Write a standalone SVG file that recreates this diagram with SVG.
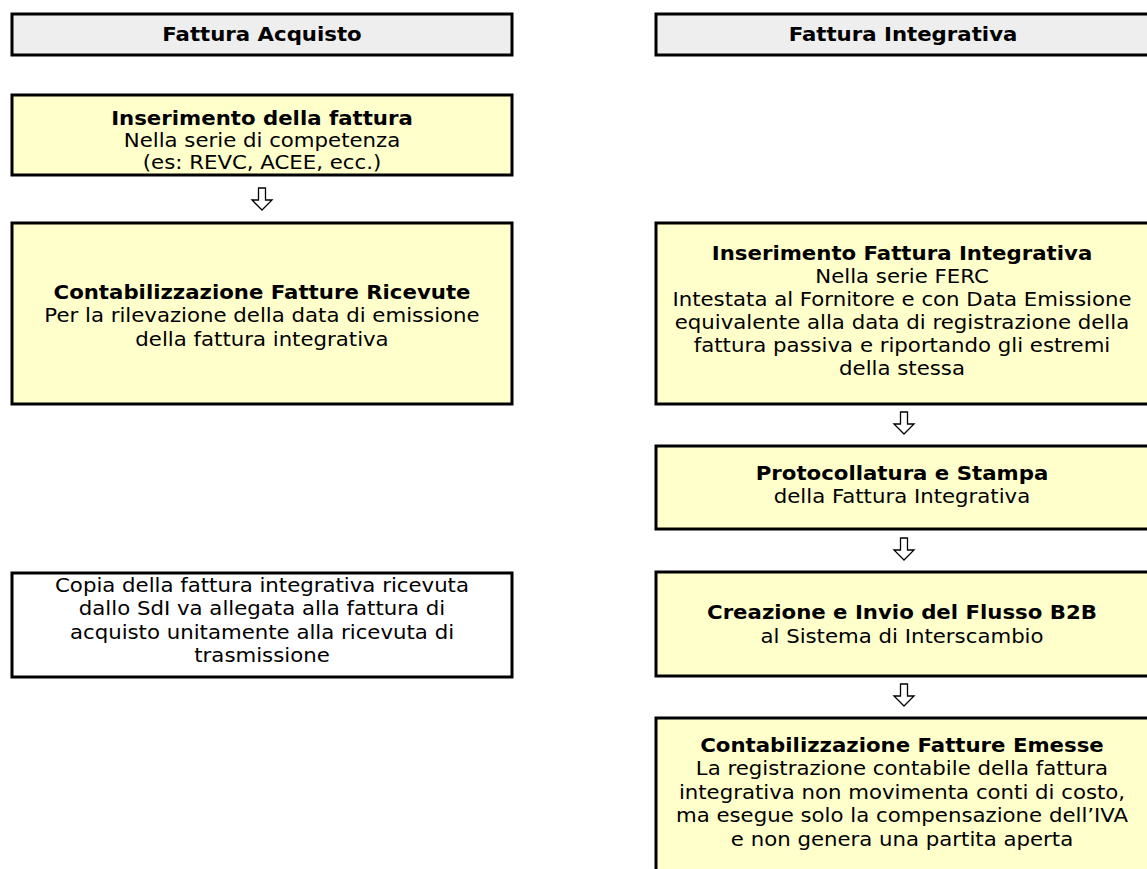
<svg xmlns="http://www.w3.org/2000/svg" width="1147" height="869" viewBox="0 0 1147 869">
<style>
  .hdr { fill: #eeeeee; stroke: #000; stroke-width: 3; }
  .box { fill: #ffffcc; stroke: #000; stroke-width: 3; }
  .note { fill: #ffffff; stroke: #000; stroke-width: 3; }
  text { font-family: "DejaVu Sans", Verdana, sans-serif; font-size: 19px; fill: #000; text-anchor: middle; }
  .b { font-weight: bold; }
  .arrow { fill: #fff; stroke: #000; stroke-width: 1.3; stroke-linejoin: miter; }
</style>
<defs>
  <path id="darrow" class="arrow" d="M-3.5,0 H3.5 V12 H10 L0,22 L-10,12 H-3.5 Z"/>
</defs>
<rect width="1147" height="869" fill="#ffffff"/>

<g id="hdr-acquisto">
  <rect class="hdr" x="12" y="14" width="500" height="41"/>
  <g transform="translate(262 0) scale(1.12 1)"><text class="b" x="0" y="41">Fattura Acquisto</text></g>
</g>
<g id="hdr-integrativa">
  <rect class="hdr" x="656" y="14" width="510" height="41"/>
  <g transform="translate(903 0) scale(1.12 1)"><text class="b" x="0" y="41">Fattura Integrativa</text></g>
</g>

<g id="inserimento-fattura">
  <rect class="box" x="12" y="95" width="500" height="80"/>
  <g transform="translate(262 0) scale(1.12 1)"><text x="0" y="125"><tspan class="b">Inserimento della fattura</tspan><tspan x="0" y="147">Nella serie di competenza</tspan><tspan x="0" y="169">(es: REVC, ACEE, ecc.)</tspan></text></g>
</g>

<g id="contabilizzazione-ricevute">
  <rect class="box" x="12" y="223" width="500" height="181"/>
  <g transform="translate(262 0) scale(1.12 1)"><text x="0" y="299"><tspan class="b">Contabilizzazione Fatture Ricevute</tspan><tspan x="0" y="322.5">Per la rilevazione della data di emissione</tspan><tspan x="0" y="346">della fattura integrativa</tspan></text></g>
</g>

<g id="copia-fattura">
  <rect class="note" x="12" y="573" width="500" height="104"/>
  <g transform="translate(262 0) scale(1.12 1)"><text x="0" y="592">Copia della fattura integrativa ricevuta<tspan x="0" y="615.5">dallo SdI va allegata alla fattura di</tspan><tspan x="0" y="639">acquisto unitamente alla ricevuta di</tspan><tspan x="0" y="662.5">trasmissione</tspan></text></g>
</g>

<g id="inserimento-integrativa">
  <rect class="box" x="656" y="223" width="510" height="181"/>
  <g transform="translate(902 0) scale(1.12 1)"><text x="0" y="260"><tspan class="b">Inserimento Fattura Integrativa</tspan><tspan x="0" y="283">Nella serie FERC</tspan><tspan x="0" y="306">Intestata al Fornitore e con Data Emissione</tspan><tspan x="0" y="329">equivalente alla data di registrazione della</tspan><tspan x="0" y="352">fattura passiva e riportando gli estremi</tspan><tspan x="0" y="375">della stessa</tspan></text></g>
</g>

<g id="protocollatura">
  <rect class="box" x="656" y="446" width="510" height="83"/>
  <g transform="translate(902 0) scale(1.12 1)"><text x="0" y="480"><tspan class="b">Protocollatura e Stampa</tspan><tspan x="0" y="503">della Fattura Integrativa</tspan></text></g>
</g>

<g id="creazione-flusso">
  <rect class="box" x="656" y="572" width="510" height="104"/>
  <g transform="translate(902 0) scale(1.12 1)"><text x="0" y="619"><tspan class="b">Creazione e Invio del Flusso B2B</tspan><tspan x="0" y="643">al Sistema di Interscambio</tspan></text></g>
</g>

<g id="contabilizzazione-emesse">
  <rect class="box" x="656" y="718" width="510" height="200"/>
  <g transform="translate(902 0) scale(1.12 1)"><text x="0" y="752"><tspan class="b">Contabilizzazione Fatture Emesse</tspan><tspan x="0" y="775.5">La registrazione contabile della fattura</tspan><tspan x="0" y="799">integrativa non movimenta conti di costo,</tspan><tspan x="0" y="822.5">ma esegue solo la compensazione dell’IVA</tspan><tspan x="0" y="846">e non genera una partita aperta</tspan></text></g>
</g>

<g id="connectors">
  <use href="#darrow" x="262" y="188"/>
  <use href="#darrow" x="904" y="412"/>
  <use href="#darrow" x="904" y="538"/>
  <use href="#darrow" x="904" y="684"/>
</g>
</svg>
